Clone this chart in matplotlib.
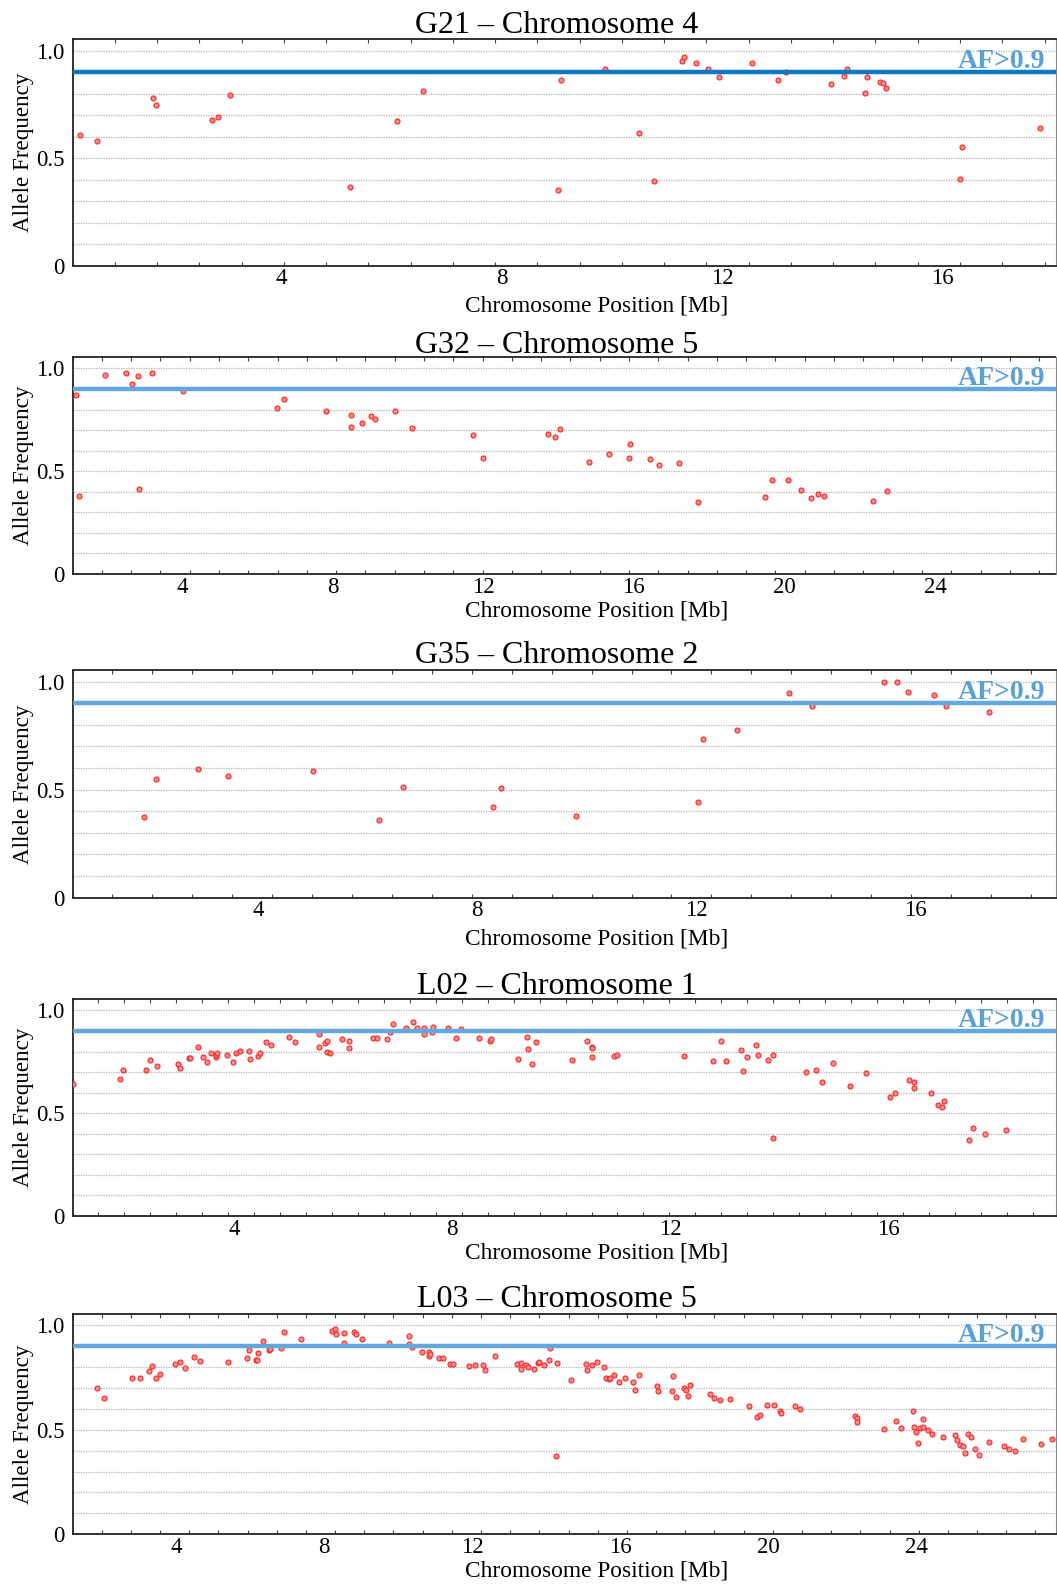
import numpy as np
import matplotlib
matplotlib.use("Agg")
import matplotlib.pyplot as plt
from matplotlib.ticker import FixedLocator

plt.rcParams['font.family'] = ['Liberation Serif', 'DejaVu Serif']

# ---- allele frequency calls per sample (position in Mb, allele frequency) ----
g21_pos = [0.34, 0.65, 1.67, 1.73, 2.75, 2.85, 3.07, 5.24, 6.10, 6.58,
           9.03, 9.07, 9.87, 10.49, 10.76, 11.28, 11.30, 11.52, 11.75, 11.94,
           12.55, 13.02, 13.16, 13.97, 14.22, 14.26, 14.59, 14.62, 14.86, 14.92,
           14.98, 16.32, 16.36, 17.77]
g21_af = [0.609, 0.581, 0.781, 0.749, 0.678, 0.691, 0.792, 0.364, 0.673, 0.811,
          0.353, 0.862, 0.916, 0.616, 0.395, 0.950, 0.971, 0.943, 0.913, 0.876,
          0.941, 0.864, 0.902, 0.843, 0.882, 0.913, 0.803, 0.878, 0.856, 0.851,
          0.825, 0.405, 0.552, 0.642]

g32_pos = [1.19, 1.27, 1.96, 2.51, 2.66, 2.83, 2.85, 3.20, 4.03, 6.52,
           6.71, 7.82, 8.49, 8.48, 8.78, 9.02, 9.12, 9.66, 10.12, 11.74,
           11.99, 13.71, 13.90, 14.04, 14.82, 15.34, 15.90, 15.88, 16.43, 16.68,
           17.20, 17.70, 19.49, 19.68, 20.10, 20.44, 20.71, 20.88, 21.05, 22.35,
           22.73]
g32_af = [0.869, 0.381, 0.968, 0.977, 0.924, 0.961, 0.415, 0.976, 0.889, 0.806,
          0.850, 0.792, 0.772, 0.717, 0.735, 0.769, 0.753, 0.793, 0.712, 0.677,
          0.562, 0.683, 0.667, 0.706, 0.544, 0.583, 0.630, 0.565, 0.559, 0.528,
          0.540, 0.351, 0.375, 0.456, 0.456, 0.409, 0.370, 0.388, 0.380, 0.355,
          0.405]

g35_pos = [1.90, 2.12, 2.90, 3.45, 4.99, 6.21, 6.65, 8.28, 8.44, 9.81,
           12.03, 12.13, 12.75, 13.69, 14.11, 15.43, 15.67, 15.88, 16.35, 16.56,
           17.35]
g35_af = [0.372, 0.551, 0.594, 0.565, 0.588, 0.361, 0.512, 0.420, 0.509, 0.380,
          0.441, 0.733, 0.776, 0.948, 0.887, 1.000, 1.000, 0.952, 0.940, 0.889,
          0.860]

l02_pos = [1.05, 1.92, 1.97, 2.38, 2.46, 2.59, 2.98, 3.01, 3.17, 3.19,
           3.35, 3.43, 3.50, 3.58, 3.67, 3.68, 3.69, 3.88, 3.99, 4.03,
           4.12, 4.28, 4.30, 4.45, 4.48, 4.58, 4.69, 5.02, 5.13, 5.56,
           5.57, 5.67, 5.70, 5.71, 5.76, 5.98, 6.11, 6.12, 6.56, 6.63,
           6.80, 6.87, 6.91, 7.15, 7.28, 7.36, 7.49, 7.49, 7.63, 7.66,
           7.93, 8.08, 8.16, 8.50, 8.70, 8.72, 9.22, 9.37, 9.39, 9.47,
           9.55, 10.21, 10.47, 10.56, 10.56, 10.56, 10.98, 11.02, 12.25, 12.79,
           12.93, 13.02, 13.30, 13.34, 13.41, 13.58, 13.62, 13.80, 13.88, 13.88,
           14.50, 14.67, 14.78, 14.98, 15.30, 15.59, 16.04, 16.12, 16.38, 16.48,
           16.47, 16.78, 16.92, 16.98, 17.02, 17.49, 17.56, 17.78, 18.16]
l02_af = [0.641, 0.667, 0.711, 0.711, 0.758, 0.731, 0.740, 0.719, 0.769, 0.769,
          0.820, 0.771, 0.750, 0.794, 0.771, 0.784, 0.792, 0.781, 0.747, 0.795,
          0.802, 0.804, 0.763, 0.778, 0.791, 0.844, 0.834, 0.873, 0.847, 0.886,
          0.820, 0.843, 0.851, 0.797, 0.791, 0.862, 0.815, 0.852, 0.864, 0.864,
          0.860, 0.893, 0.932, 0.914, 0.945, 0.916, 0.916, 0.883, 0.896, 0.920,
          0.916, 0.864, 0.911, 0.864, 0.849, 0.859, 0.763, 0.873, 0.813, 0.739,
          0.844, 0.760, 0.851, 0.823, 0.817, 0.771, 0.778, 0.784, 0.776, 0.752,
          0.851, 0.756, 0.808, 0.705, 0.771, 0.834, 0.784, 0.758, 0.781, 0.377,
          0.700, 0.711, 0.651, 0.744, 0.633, 0.696, 0.580, 0.599, 0.662, 0.654,
          0.625, 0.599, 0.542, 0.532, 0.560, 0.369, 0.430, 0.399, 0.420]

l03_pos = [1.86, 2.03, 2.80, 3.01, 3.25, 3.35, 3.44, 3.55, 3.96, 4.11,
           4.23, 4.47, 4.64, 5.39, 5.90, 5.96, 6.16, 6.19, 6.21, 6.34,
           6.49, 6.54, 6.83, 6.92, 7.37, 8.21, 8.28, 8.31, 8.52, 8.54,
           8.80, 8.85, 9.03, 9.74, 10.28, 10.28, 10.38, 10.63, 10.83, 10.83,
           10.86, 11.11, 11.20, 11.40, 11.47, 11.92, 12.06, 12.28, 12.35, 12.62,
           13.21, 13.33, 13.33, 13.46, 13.50, 13.66, 13.77, 13.81, 13.95, 14.07,
           14.09, 14.26, 14.30, 14.68, 15.08, 15.10, 15.25, 15.36, 15.56, 15.61,
           15.70, 15.72, 15.83, 15.97, 16.14, 16.34, 16.39, 16.52, 16.99, 17.01,
           17.39, 17.43, 17.52, 17.72, 17.79, 17.84, 17.89, 18.43, 18.53, 18.71,
           18.97, 19.47, 19.71, 19.78, 19.96, 20.17, 20.32, 20.34, 20.72, 20.87,
           22.35, 22.40, 22.41, 23.12, 23.45, 23.60, 23.91, 23.94, 23.99, 24.06,
           24.10, 24.19, 24.20, 24.31, 24.42, 24.72, 25.04, 25.12, 25.18, 25.27,
           25.32, 25.40, 25.49, 25.59, 25.71, 25.98, 26.39, 26.50, 26.67, 26.89,
           27.37, 27.68]
l03_af = [0.700, 0.652, 0.750, 0.750, 0.782, 0.806, 0.749, 0.768, 0.814, 0.822,
          0.797, 0.847, 0.828, 0.825, 0.843, 0.882, 0.835, 0.836, 0.866, 0.924,
          0.881, 0.886, 0.892, 0.968, 0.936, 0.971, 0.983, 0.960, 0.962, 0.914,
          0.968, 0.957, 0.936, 0.916, 0.948, 0.909, 0.895, 0.870, 0.874, 0.851,
          0.862, 0.843, 0.844, 0.817, 0.814, 0.804, 0.811, 0.809, 0.787, 0.854,
          0.817, 0.819, 0.790, 0.812, 0.800, 0.793, 0.820, 0.825, 0.808, 0.836,
          0.890, 0.377, 0.820, 0.739, 0.817, 0.784, 0.812, 0.824, 0.801, 0.747,
          0.742, 0.747, 0.760, 0.730, 0.747, 0.731, 0.690, 0.760, 0.709, 0.684,
          0.685, 0.757, 0.655, 0.698, 0.690, 0.660, 0.715, 0.671, 0.653, 0.642,
          0.647, 0.615, 0.563, 0.571, 0.617, 0.620, 0.588, 0.580, 0.614, 0.601,
          0.568, 0.558, 0.539, 0.506, 0.544, 0.510, 0.590, 0.515, 0.488, 0.439,
          0.507, 0.514, 0.550, 0.501, 0.479, 0.464, 0.475, 0.453, 0.428, 0.421,
          0.390, 0.479, 0.464, 0.409, 0.378, 0.442, 0.424, 0.407, 0.397, 0.455,
          0.432, 0.458]

titles = ["G21 – Chromosome 4", "G32 – Chromosome 5", "G35 – Chromosome 2",
          "L02 – Chromosome 1", "L03 – Chromosome 5"]
positions = [g21_pos, g32_pos, g35_pos, l02_pos, l03_pos]
freqs = [g21_af, g32_af, g35_af, l02_af, l03_af]
x_ticks = [[4, 8, 12, 16], [4, 8, 12, 16, 20, 24], [4, 8, 12, 16],
           [4, 8, 12, 16], [4, 8, 12, 16, 20, 24]]
y_ticks = [0, 0.5, 1.0]
y_tick_labels = ["0", "0.5", "1.0"]
threshold = 0.9
threshold_label = "AF>0.9"
x_label = "Chromosome Position [Mb]"
y_label = "Allele Frequency"

# ---- layout (pixels) and styling ----
W, H = 1057, 1585
axes_px = [(39, 265.7), (357.3, 574), (670, 897.7), (999.3, 1216), (1314, 1534.3)]
left_px, right_px = 72.5, 1055.5
title_base_px = [33.3, 353.3, 663.3, 994, 1307.3]
xlabel_base_px = [311.7, 617, 945, 1259, 1576]
xlims = [(0.21, 18.05), (1.09, 27.2), (0.60, 18.57), (1.04, 19.07), (1.19, 27.77)]
minor_step = [0.767, 0.778, 0.73, 0.476, 0.789]
line_colors = ['#0a78c2', '#62a8e0', '#62a8e0', '#62a8e0', '#62a8e0']
label_color = '#5b9fd8'

fig = plt.figure(figsize=(W / 100, H / 100), dpi=100)

for i in range(5):
    top, bot = axes_px[i]
    ax = fig.add_axes([left_px / W, 1 - bot / H, (right_px - left_px) / W, (bot - top) / H])
    lo, hi = xlims[i]
    ax.set_xlim(lo, hi)
    ax.set_ylim(0, 1.054)

    # dotted horizontal guides every 0.1
    for gy in np.arange(0.1, 1.001, 0.1):
        ax.axhline(gy, color='#b4b4b4', lw=0.9, ls=(0, (1, 1)), zorder=1)

    ax.scatter(positions[i], freqs[i], s=13, facecolor='#ff8c8c', edgecolor='#f02a2a',
               linewidths=0.8, zorder=3)
    ax.axhline(threshold, color=line_colors[i], lw=3.2, zorder=4)
    ax.annotate(threshold_label, xy=(0.99, threshold), xycoords=('axes fraction', 'data'),
                xytext=(0, 2.8), textcoords='offset points', ha='right', va='baseline',
                fontsize=20, fontweight='bold', color=label_color, zorder=5)

    ax.set_xticks(x_ticks[i])
    ax.set_xticklabels([str(t) for t in x_ticks[i]])
    ax.xaxis.set_minor_locator(FixedLocator(np.arange(lo, hi, minor_step[i])))
    ax.tick_params(axis='x', which='major', length=0, pad=2, labelsize=16.5)
    ax.tick_params(axis='x', which='minor', direction='in', length=3, width=0.8,
                   top=True, bottom=True, color='#444444')
    ax.set_yticks(y_ticks)
    ax.set_yticklabels(y_tick_labels)
    ax.tick_params(axis='y', length=0, pad=6, labelsize=16.5)

    for side in ['left', 'bottom', 'top']:
        ax.spines[side].set_linewidth(1.3)
        ax.spines[side].set_color('#222222')
    ax.spines['right'].set_linewidth(0.8)
    ax.spines['right'].set_color('#888888')

    fig.text(557 / W, 1 - title_base_px[i] / H, titles[i], ha='center', va='baseline',
             fontsize=23)
    fig.text(597 / W, 1 - xlabel_base_px[i] / H, x_label, ha='center', va='baseline',
             fontsize=16.8)
    fig.text(23.7 / W, 1 - (top + bot) / 2 / H, y_label, rotation=90, ha='center',
             va='center', fontsize=16.6)

fig.savefig('out.png', dpi=100)
